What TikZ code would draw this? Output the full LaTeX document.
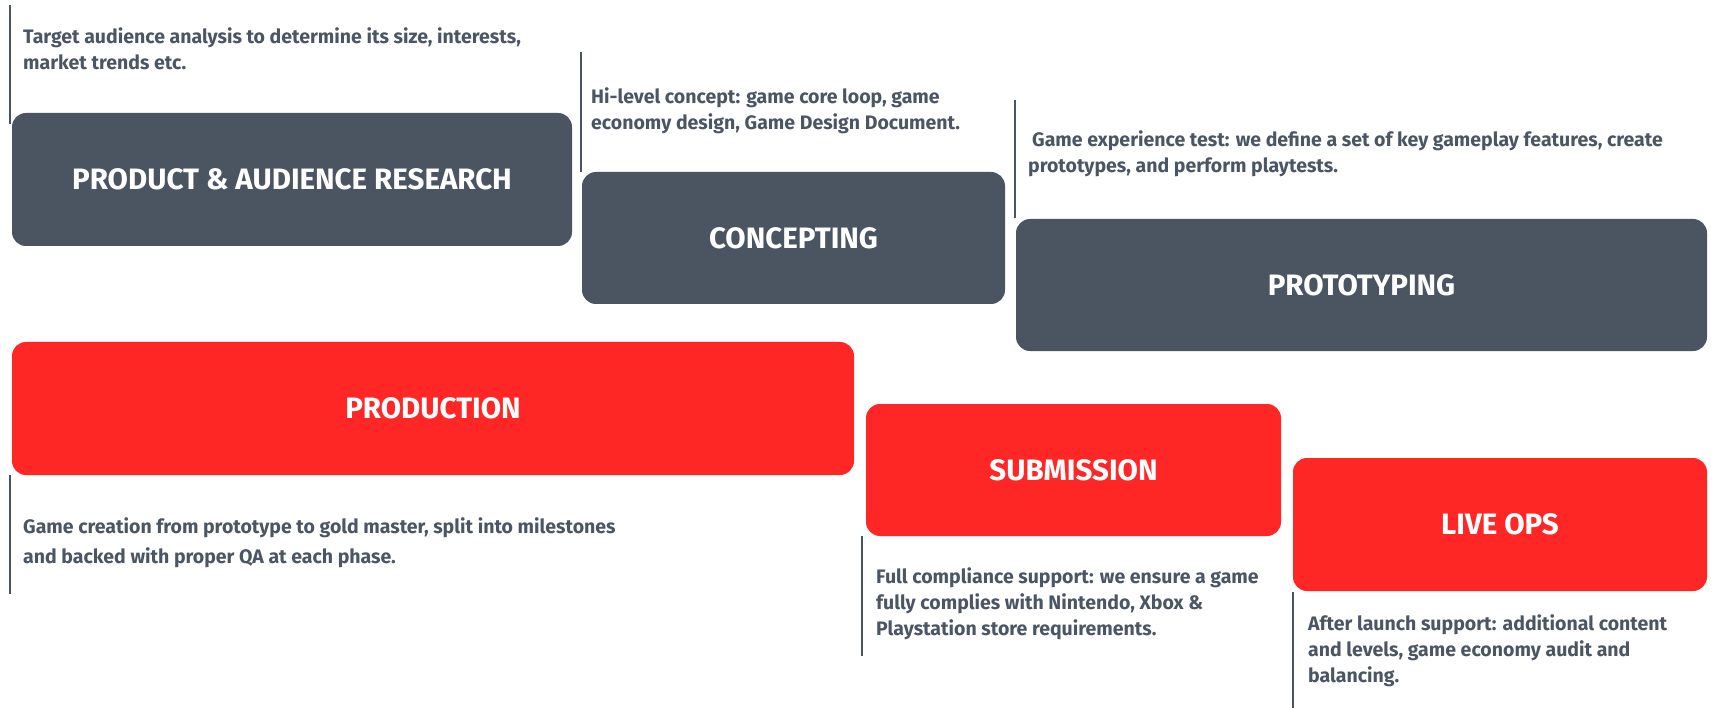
\documentclass[tikz,border=0pt]{standalone}
\usepackage{fontspec}
\setmainfont{Fira Sans}
\definecolor{slate}{HTML}{4B5461}
\definecolor{redbox}{HTML}{FF2626}
\definecolor{desctext}{HTML}{4B5563}
\begin{document}
\begin{tikzpicture}[x=1pt,y=-1pt,
  stagebox/.style={rectangle, rounded corners=14pt, text=white, inner sep=0pt,
    font=\fontsize{29.5}{34}\selectfont\bfseries},
  darkstage/.style={stagebox, fill=slate},
  redstage/.style={stagebox, fill=redbox},
  desc/.style={anchor=base west, align=left, text=desctext, inner sep=0pt,
    font=\fontsize{19.5}{26}\selectfont\bfseries},
  bar/.style={draw=slate, line width=1.5pt}]
\useasboundingbox[fill=white] (0,0) rectangle (1715,708);

% stage boxes
\node[darkstage, minimum width=560pt, minimum height=133pt] (research) at (292,179.5) {PRODUCT \& AUDIENCE RESEARCH};
\node[darkstage, minimum width=423pt, minimum height=132pt] (concept) at (793.5,238) {CONCEPTING};
\node[darkstage, minimum width=691pt, minimum height=132pt] (proto) at (1361.5,285) {PROTOTYPING};
\node[redstage, minimum width=842pt, minimum height=133pt] (prod) at (433,408.5) {PRODUCTION};
\node[redstage, minimum width=415pt, minimum height=132pt] (submit) at (1073.5,470) {SUBMISSION};
\node[redstage, minimum width=414pt, minimum height=133pt] (liveops) at (1500,524.5) {LIVE OPS};

% descriptions (anchored at the baseline of their last line)
\node[desc] (d1) at (23,70) {Target audience analysis to determine its size, interests,\\market trends etc.};
\node[desc] (d2) at (591,130) {Hi-level concept: game core loop, game\\economy design, Game Design Document.};
\node[desc] (d3) at (1028,173) {\hspace*{4pt}Game experience test: we define a set of key gameplay features, create\\prototypes, and perform playtests.};
\node[desc, font=\fontsize{19.5}{30}\selectfont\bfseries] (d4) at (23,563) {Game creation from prototype to gold master, split into milestones\\and backed with proper QA at each phase.};
\node[desc] (d5) at (876,635) {Full compliance support: we ensure a game\\fully complies with Nintendo, Xbox \&\\Playstation store requirements.};
\node[desc] (d6) at (1308,682) {After launch support: additional content\\and levels, game economy audit and\\balancing.};

% side bars
\coordinate (b1t) at (10,5);      \coordinate (b1b) at (10,124);
\coordinate (b2t) at (581,52);    \coordinate (b2b) at (581,172);
\coordinate (b3t) at (1015,100);  \coordinate (b3b) at (1015,218);
\coordinate (b4t) at (10,475);    \coordinate (b4b) at (10,594);
\coordinate (b5t) at (862,536);   \coordinate (b5b) at (862,656);
\coordinate (b6t) at (1293,592);  \coordinate (b6b) at (1293,708);
\draw[bar] (b1t) -- (b1b);
\draw[bar] (b2t) -- (b2b);
\draw[bar] (b3t) -- (b3b);
\draw[bar] (b4t) -- (b4b);
\draw[bar] (b5t) -- (b5b);
\draw[bar] (b6t) -- (b6b);
\end{tikzpicture}
\end{document}
